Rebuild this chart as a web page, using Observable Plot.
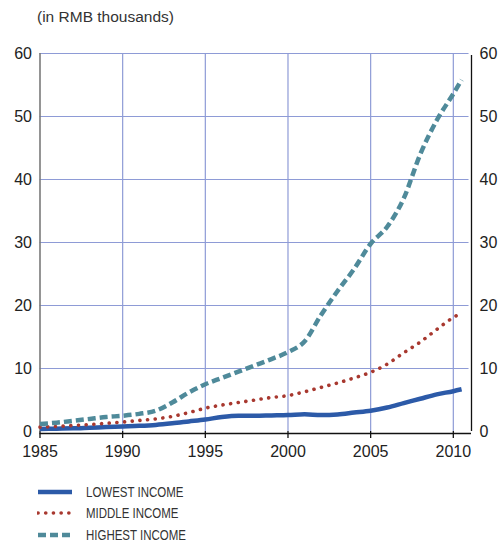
<!DOCTYPE html>
<html><head><meta charset="utf-8">
<script src="https://cdn.jsdelivr.net/npm/d3@7"></script>
<script src="https://cdn.jsdelivr.net/npm/@observablehq/plot@0.6"></script>
<style>
body{margin:0;background:#fff;font-family:"Liberation Sans",Arial,sans-serif;}
#wrap{position:relative;width:503px;height:546px;overflow:hidden;}
#title{position:absolute;left:37px;top:8px;font-size:15.5px;color:#333;}
#chart{position:absolute;left:0;top:40px;}
#legend{position:absolute;left:37px;top:481px;font-family:"Liberation Sans",sans-serif;font-size:14px;color:#333;}
.row{height:21.5px;display:flex;align-items:center;}
.row svg{margin-right:13px;}
.row span{display:inline-block;transform:scaleX(0.82);transform-origin:0 50%;white-space:nowrap;}
</style></head>
<body>
<div id="wrap">
  <div id="title">(in RMB thousands)</div>
  <div id="chart"></div>
  <div id="legend"></div>
</div>
<script>
const years   = [1985,1986,1987,1988,1989,1990,1991,1992,1993,1994,1995,1996,1997,1998,1999,2000,2001,2002,2003,2004,2005,2006,2007,2008,2009,2010,2010.5];
const lowest  = [0.4,0.45,0.5,0.6,0.7,0.8,0.9,1.05,1.3,1.6,1.9,2.3,2.5,2.5,2.55,2.6,2.75,2.6,2.7,3.0,3.3,3.8,4.5,5.2,5.9,6.4,6.7];
const middle  = [0.7,0.8,0.95,1.1,1.3,1.5,1.75,2.0,2.4,3.0,3.7,4.2,4.6,5.0,5.4,5.7,6.3,7.0,7.7,8.5,9.4,10.7,12.5,14.2,16.2,18.1,18.8];
const highest = [1.2,1.4,1.7,2.0,2.3,2.5,2.8,3.3,4.6,6.2,7.5,8.5,9.5,10.5,11.5,12.6,14.3,18.5,22.3,25.8,29.8,32.5,37.0,44.0,49.4,53.6,55.8];
const seriesNames = ["LOWEST INCOME","MIDDLE INCOME","HIGHEST INCOME"];
const xTicks = [1985,1990,1995,2000,2005,2010];
const yTicks = [0,10,20,30,40,50,60];

const styles = [
  {stroke:"#2c5aa8", strokeWidth:4.5, dash:null, cap:"butt"},
  {stroke:"#a8382f", strokeWidth:3.6, dash:"0.1 7.6", cap:"round"},
  {stroke:"#4f8a9a", strokeWidth:4.5, dash:"8 4", cap:"butt"}
];
const allSeries = [lowest, middle, highest];
const tables = allSeries.map(vals => years.map((y,i)=>({year:y, value:vals[i]})));

const X0 = 1985, X1 = 2011.1;
const lineMarks = tables.map((t,k)=>Plot.line(t,{x:"year",y:"value",stroke:styles[k].stroke,strokeWidth:styles[k].strokeWidth,strokeDasharray:styles[k].dash,strokeLinecap:styles[k].cap,curve:"monotone-x"}));

const chart = Plot.plot({
  width:503, height:440,
  marginLeft:39.5, marginRight:32, marginTop:13, marginBottom:49,
  style:{fontFamily:"'Liberation Sans',Arial,sans-serif", fontSize:"16px", color:"#222", background:"#fff"},
  x:{domain:[X0,X1]},
  y:{domain:[0,60]},
  marks:[
    Plot.ruleY(yTicks.filter(d=>d>0),{x1:X0,x2:2010.95,stroke:"#8e9bd6",strokeWidth:1.2,strokeOpacity:1}),
    Plot.ruleX(xTicks.filter(d=>d>X0),{y1:0,y2:60,stroke:"#8e9bd6",strokeWidth:1.2,strokeOpacity:1}),
    Plot.ruleX([X0],{y1:0,y2:60,stroke:"#7a7a7a",strokeWidth:1.6}),
    Plot.ruleX([X1],{y1:0,y2:60,stroke:"#111",strokeWidth:1.3,insetBottom:-2}),
    Plot.ruleY([0],{x1:X0,x2:X1,stroke:"#111",strokeWidth:1.3,dy:2}),
    Plot.axisX({ticks:xTicks,tickFormat:d=>String(d),tickSize:7,tickPadding:7,stroke:"#111",strokeWidth:1.3,label:null,fontSize:16}),
    Plot.axisY({ticks:yTicks,anchor:"left",tickSize:0,tickPadding:8,label:null,fontSize:16}),
    Plot.axisY({ticks:yTicks,anchor:"right",tickSize:0,tickPadding:8,label:null,fontSize:16}),
    ...lineMarks
  ]
});
document.getElementById("chart").appendChild(chart);

const legend = document.getElementById("legend");
seriesNames.forEach((name,k)=>{
  const row = document.createElement("div");
  row.className="row";
  const s = styles[k];
  row.innerHTML = `<svg width="36" height="10"><line x1="1" y1="5" x2="35" y2="5" stroke="${s.stroke}" stroke-width="${s.strokeWidth}" ${s.dash?`stroke-dasharray="${s.dash}"`:""} stroke-linecap="${s.cap}"/></svg><span>${name}</span>`;
  legend.appendChild(row);
});
</script>
</body></html>
